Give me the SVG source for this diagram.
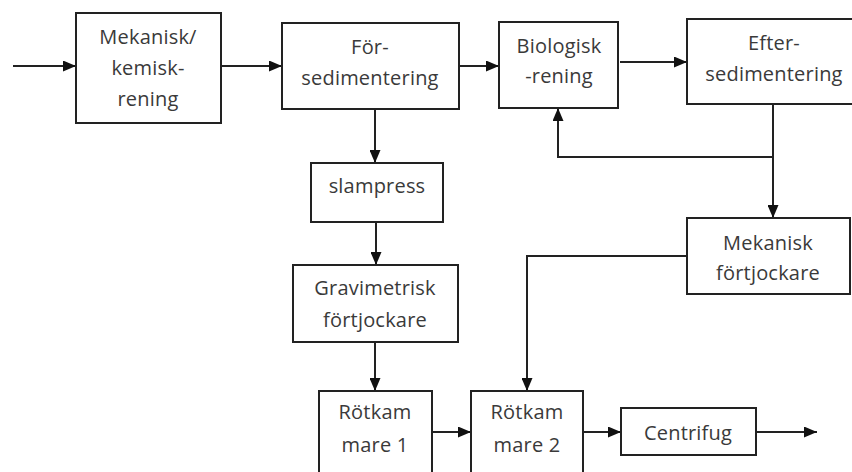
<svg xmlns="http://www.w3.org/2000/svg" width="852" height="472" viewBox="0 0 852 472">
<defs>
<style>
.box{fill:#fff;stroke:#222;stroke-width:2}
.t{font-family:"Open Sans","Liberation Sans",sans-serif;font-size:20px;fill:#3a3a3a;text-anchor:middle;letter-spacing:0.2px}
.c{fill:none;stroke:#222;stroke-width:2}
</style>
<marker id="ah" markerWidth="13" markerHeight="11" refX="13" refY="5.5" orient="auto" markerUnits="userSpaceOnUse">
<path d="M0,0 L13,5.5 L0,11 Z" fill="#111"/>
</marker>
</defs>
<rect width="852" height="472" fill="#fff"/>
<g id="connectors">
<path class="c" d="M13,66 H76" marker-end="url(#ah)"/>
<path class="c" d="M221,66 H282" marker-end="url(#ah)"/>
<path class="c" d="M459,66 H499" marker-end="url(#ah)"/>
<path class="c" d="M620,62 H687" marker-end="url(#ah)"/>
<path class="c" d="M375,109 V163" marker-end="url(#ah)"/>
<path class="c" d="M376,222 V265" marker-end="url(#ah)"/>
<path class="c" d="M375,342 V391" marker-end="url(#ah)"/>
<path class="c" d="M773,104 V218" marker-end="url(#ah)"/>
<path class="c" d="M773,157 H558 V108" marker-end="url(#ah)"/>
<path class="c" d="M687,256 H527 V391" marker-end="url(#ah)"/>
<path class="c" d="M432,432 H471" marker-end="url(#ah)"/>
<path class="c" d="M583,432 H621" marker-end="url(#ah)"/>
<path class="c" d="M756,432 H817" marker-end="url(#ah)"/>
</g>
<g id="mekanisk-kemisk">
<rect class="box" x="76" y="13" width="145" height="110"/>
<text class="t" x="148" y="44">Mekanisk/</text>
<text class="t" x="148" y="75">kemisk-</text>
<text class="t" x="148" y="106">rening</text>
</g>
<g id="forsedimentering">
<rect class="box" x="282" y="23" width="177" height="86"/>
<text class="t" x="370" y="54">För-</text>
<text class="t" x="370" y="85">sedimentering</text>
</g>
<g id="biologisk">
<rect class="box" x="499" y="22" width="119" height="86"/>
<text class="t" x="559" y="53">Biologisk</text>
<text class="t" x="559" y="83">-rening</text>
</g>
<g id="eftersedimentering">
<rect class="box" x="687" y="19" width="180" height="85"/>
<text class="t" x="774" y="50">Efter-</text>
<text class="t" x="774" y="81">sedimentering</text>
</g>
<g id="slampress">
<rect class="box" x="311" y="163" width="132" height="59"/>
<text class="t" x="377" y="193">slampress</text>
</g>
<g id="gravimetrisk">
<rect class="box" x="293" y="265" width="165" height="77"/>
<text class="t" x="375" y="295">Gravimetrisk</text>
<text class="t" x="375" y="327">förtjockare</text>
</g>
<g id="mekanisk-fortjockare">
<rect class="box" x="687" y="218" width="163" height="76"/>
<text class="t" x="768" y="250">Mekanisk</text>
<text class="t" x="768" y="280">förtjockare</text>
</g>
<g id="rotkammare1">
<rect class="box" x="319" y="391" width="113" height="95"/>
<text class="t" x="375" y="419">Rötkam</text>
<text class="t" x="375" y="452">mare 1</text>
</g>
<g id="rotkammare2">
<rect class="box" x="471" y="391" width="112" height="95"/>
<text class="t" x="527" y="419">Rötkam</text>
<text class="t" x="527" y="452">mare 2</text>
</g>
<g id="centrifug">
<rect class="box" x="621" y="408" width="135" height="47"/>
<text class="t" x="688" y="440">Centrifug</text>
</g>
</svg>
